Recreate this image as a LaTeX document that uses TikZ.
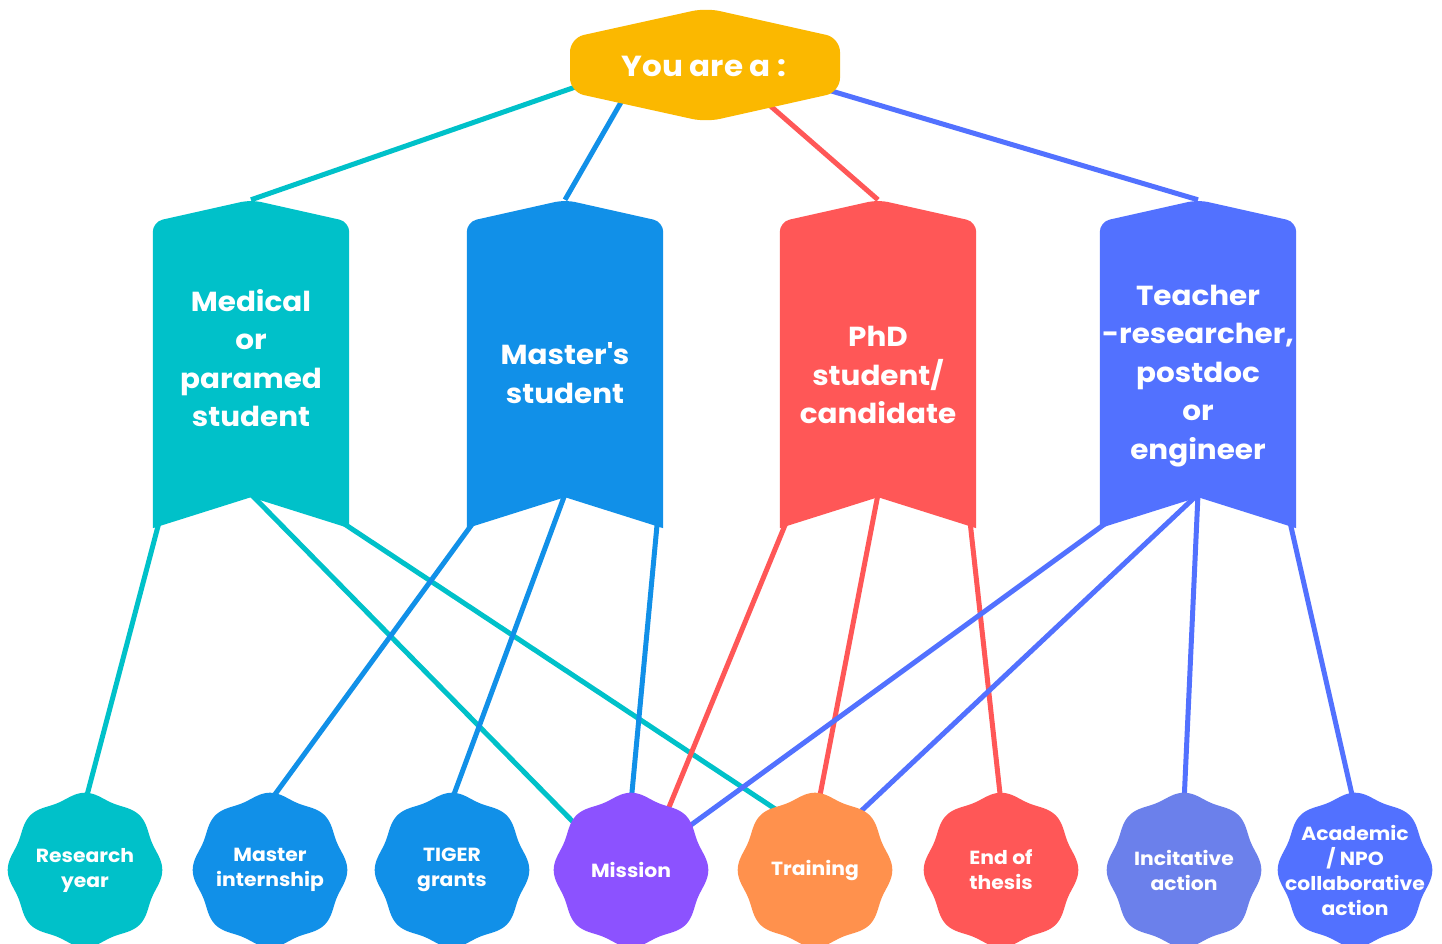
\documentclass[tikz,border=0pt]{standalone}
\usepackage{fontspec}
\setmainfont{Poppins}[FakeStretch=1.07]
\usetikzlibrary{calc}
\definecolor{cgold}{HTML}{FBB800}
\definecolor{cteal}{HTML}{00C1C9}
\definecolor{cblue}{HTML}{1190E8}
\definecolor{cred}{HTML}{FF5757}
\definecolor{cperi}{HTML}{5271FF}
\definecolor{cpurple}{HTML}{8C52FF}
\definecolor{corange}{HTML}{FF914D}
\definecolor{cincit}{HTML}{6B80EB}
\pgfdeclarelayer{back}
\pgfdeclarelayer{mid}
\pgfsetlayers{back,mid,main}
\tikzset{
  link/.style={line width=5pt},
  headtext/.style={text=white, font=\fontsize{29}{34}\selectfont\bfseries, minimum width=250pt, minimum height=70pt, inner sep=0pt},
  banner/.style={minimum width=196pt, minimum height=328pt, inner sep=0pt},
  bantext/.style={text=white, font=\fontsize{27.5}{38.5}\selectfont\bfseries, align=center},
  badge/.style={circle, minimum size=134pt, inner sep=0pt},
  badgetext/.style={text=white, font=\fontsize{19}{25}\selectfont\bfseries, align=center},
}

\begin{document}
\begin{tikzpicture}[x=1pt, y=-1pt]
  \useasboundingbox (0,0) rectangle (1442,944);
  \begin{pgfonlayer}{back}
    \fill[white] (0,0) rectangle (1442,944);
  \end{pgfonlayer}

  % top question
  \node[headtext] (hex) at (704,66) {You are a :};
  \begin{pgfonlayer}{mid}
    \fill[cgold, rounded corners=14pt] ($(hex)+(2,-58)$) -- ($(hex)+(136,-28)$) -- ($(hex)+(136,26)$)
      -- ($(hex)+(2,56)$) -- ($(hex)+(-134,26)$) -- ($(hex)+(-134,-28)$) -- cycle;
  \end{pgfonlayer}

  % banners
  \foreach \x/\n/\c/\t/\ty in {251/med/cteal/{Medical\\or\\paramed\\student}/358,
      565/mas/cblue/{Master\textquotesingle s\\student}/373,
      878/phd/cred/{PhD\\student/\\candidate}/375,
      1198/tch/cperi/{Teacher\\-researcher,\\postdoc\\or\\engineer}/376}{
    \node[banner] (\n) at (\x,364) {};
    \node[bantext] (\n-txt) at (\x,\ty) {\t};
    \begin{pgfonlayer}{mid}
      \fill[\c] (\n.south west) [rounded corners=10pt] -- ($(\n.north west)+(0,22)$) -- (\n.north)
        -- ($(\n.north east)+(0,22)$) [sharp corners] -- (\n.south east) -- ($(\n.south)+(0,-31)$) -- cycle;
    \end{pgfonlayer}
    \coordinate (\n-l) at ($(\n.south west)+(6,-5)$);
    \coordinate (\n-m) at ($(\n.south)+(0,-34)$);
    \coordinate (\n-r) at ($(\n.south east)+(-6,-5)$);
  }

  % badges
  \foreach \x/\n/\c/\t in {85/ry/cteal/{Research\\year}, 270/mi/cblue/{Master\\internship},
      452/tg/cblue/{TIGER\\grants}, 631/mis/cpurple/{Mission}, 815/tr/corange/{Training},
      1001/eot/cred/{End of\\thesis}, 1184/inc/cincit/{Incitative\\action},
      1355/aca/cperi/{Academic\\/ NPO\\collaborative\\action}}{
    \node[badge] (\n) at (\x,870) {};
    \node[badgetext] (\n-txt) at (\x,870) {\t};
    \begin{pgfonlayer}{mid}
      \fill[\c, shift={(\x,870)}] plot[domain=0:358, samples=180, smooth cycle] (\x:{74.8+2.5*cos(8*\x)});
    \end{pgfonlayer}
  }

  \begin{pgfonlayer}{back}
    \draw[link, cteal] (hex.189) -- (med.north);
    \draw[link, cblue] (hex.140) -- (mas.north);
    \draw[link, cred] (hex.330) -- (phd.north);
    \draw[link, cperi] (hex.349) -- (tch.north);
    \draw[link, cteal] (med-l) -- (ry.90);
    \draw[link, cteal] (med-m) -- (mis.141);
    \draw[link, cteal] (med-r) -- (tr.121);
    \draw[link, cblue] (mas-l) -- (mi.91);
    \draw[link, cblue] (mas-m) -- (tg.91);
    \draw[link, cblue] (mas-r) -- (mis.90);
    \draw[link, cred] (phd-l) -- (mis.58);
    \draw[link, cred] (phd-m) -- (tr.87);
    \draw[link, cred] (phd-r) -- (eot.90);
    \draw[link, cperi] (tch-l) -- (mis.37);
    \draw[link, cperi] (tch-m) -- (tr.53);
    \draw[link, cperi] (tch-m) -- (inc.90);
    \draw[link, cperi] (tch-r) -- (aca.91);
  \end{pgfonlayer}
\end{tikzpicture}
\end{document}
